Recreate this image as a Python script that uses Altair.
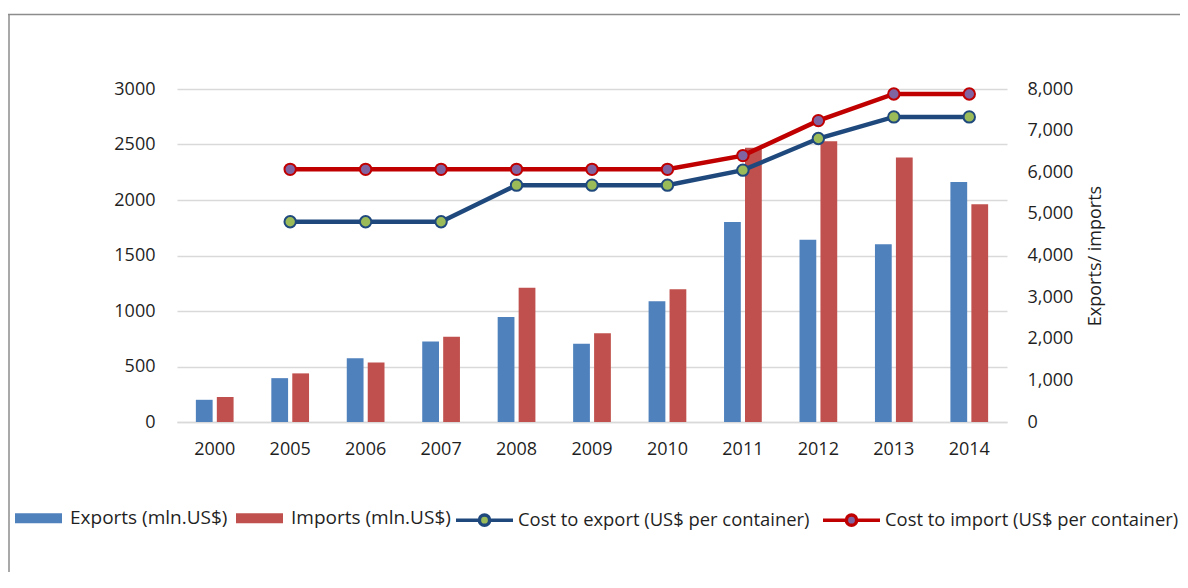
import altair as alt
import pandas as pd

FONT = "Open Sans"
TEXT = "#1f1f1f"

years = ["2000", "2005", "2006", "2007", "2008", "2009", "2010", "2011", "2012", "2013", "2014"]
exports = [200, 395, 575, 725, 945, 705, 1087, 1802, 1643, 1601, 2162]
imports = [225, 438, 535, 768, 1210, 799, 1195, 2470, 2529, 2384, 1961]
cost_export = [None, 4810, 4810, 4810, 5690, 5690, 5690, 6050, 6810, 7330, 7330]
cost_import = [None, 6070, 6070, 6070, 6070, 6070, 6070, 6400, 7240, 7880, 7880]

bar_series = ["Exports (mln.US$)", "Imports (mln.US$)"]
line_series = ["Cost to export (US$ per container)", "Cost to import (US$ per container)"]
bar_colors = ["#4F81BD", "#C0504D"]
line_colors = ["#1F497D", "#C00000"]
marker_fill = ["#9BBB59", "#8064A2"]

left_ticks = [0, 500, 1000, 1500, 2000, 2500, 3000]
right_ticks = [0, 1000, 2000, 3000, 4000, 5000, 6000, 7000, 8000]

bars_df = pd.DataFrame({
    "year": years * 2,
    "series": [bar_series[0]] * len(years) + [bar_series[1]] * len(years),
    "value": exports + imports,
})

rows = []
for s, vals in zip(line_series, [cost_export, cost_import]):
    for y, v in zip(years, vals):
        if v is not None:
            rows.append({"year": y, "series": s, "value": v})
lines_df = pd.DataFrame(rows)

TICK_FS = 18
LEG_FS = 19
LINE_LEG_FS = 18.4

x_axis = alt.Axis(title=None, labelAngle=0, ticks=False, grid=False,
                  domainColor="#d9d9d9", domainWidth=1.5, labelPadding=18,
                  labelFont=FONT, labelFontSize=TICK_FS, labelColor=TEXT)
x_scale = alt.Scale(paddingInner=0.5, paddingOuter=0.25)

bar_legend = alt.Legend(orient="none", legendX=-162, legendY=405.5, direction="horizontal",
                        title=None, symbolType="M-1,-0.21H1V0.21H-1Z", symbolSize=2209,
                        symbolStrokeWidth=0, labelFont=FONT, labelFontSize=LEG_FS,
                        labelColor=TEXT, labelOffset=8, columnPadding=8, labelLimit=0,
                        padding=0)

line_sym = ("M-1,0H-0.18M0.18,0H1M0.18,0A0.18,0.18 0 1,1 -0.18,0"
            "A0.18,0.18 0 1,1 0.18,0Z")
line_legend = alt.Legend(orient="none", legendX=277, legendY=400.5, direction="horizontal",
                         title=None, symbolType=line_sym, symbolSize=3249,
                         symbolStrokeWidth=3.5, labelFont=FONT, labelFontSize=LINE_LEG_FS,
                         labelColor=TEXT, labelOffset=3, columnPadding=6, labelLimit=0,
                         padding=0)

bars = alt.Chart(bars_df).mark_bar().encode(
    x=alt.X("year:N", sort=years, scale=x_scale, axis=x_axis),
    xOffset=alt.XOffset("series:N", sort=bar_series, scale=alt.Scale(paddingInner=0.2)),
    y=alt.Y("value:Q", scale=alt.Scale(domain=[0, 3000], nice=False),
            axis=alt.Axis(values=left_ticks, format="d", title=None, domain=False, ticks=False,
                          labelPadding=22, gridColor="#d9d9d9", gridWidth=1.3,
                          labelFont=FONT, labelFontSize=TICK_FS, labelColor=TEXT)),
    color=alt.Color("series:N", scale=alt.Scale(domain=bar_series, range=bar_colors),
                    legend=bar_legend),
)

y_right = alt.Y("value:Q", scale=alt.Scale(domain=[0, 8000], nice=False),
                axis=alt.Axis(orient="right", values=right_ticks, format=",.0f",
                              title="Exports/ imports", grid=False, domain=False, ticks=False,
                              labelPadding=20, titlePadding=14, titleAngle=270,
                              titleBaseline="top", titleFont=FONT, titleFontSize=TICK_FS,
                              titleFontWeight="normal", titleColor=TEXT,
                              labelFont=FONT, labelFontSize=TICK_FS, labelColor=TEXT))

stroke_enc = alt.Stroke("series:N", scale=alt.Scale(domain=line_series, range=line_colors),
                        legend=line_legend)

line = alt.Chart(lines_df).mark_line(strokeWidth=4.5).encode(
    x=alt.X("year:N", sort=years, scale=x_scale, axis=x_axis),
    y=y_right,
    stroke=stroke_enc,
    detail="series:N",
)
points = alt.Chart(lines_df).mark_point(filled=True, size=130, strokeWidth=2, opacity=1).encode(
    x=alt.X("year:N", sort=years, scale=x_scale, axis=x_axis),
    y=y_right,
    stroke=stroke_enc,
    fill=alt.Fill("series:N", scale=alt.Scale(domain=line_series, range=marker_fill),
                  legend=line_legend),
)

frame_df = pd.DataFrame({"k": [0]})
frame_top = alt.Chart(frame_df).mark_rule(stroke="#8c8c8c", strokeWidth=1.5).encode(
    x=alt.value(-169), x2=alt.value(1003), y=alt.value(-74.5)
)
frame_left = alt.Chart(frame_df).mark_rule(stroke="#8c8c8c", strokeWidth=1.5).encode(
    x=alt.value(-168), y=alt.value(-75), y2=alt.value(483)
)

chart = alt.layer(frame_top, frame_left, bars, alt.layer(line, points)).resolve_scale(
    y="independent"
).properties(
    width=830, height=333,
    autosize=alt.AutoSizeParams(type="none"),
    padding={"left": 169, "top": 81, "right": 173, "bottom": 150},
).configure_view(stroke=None)

chart.save("out.html", embed_options={"renderer": "svg", "actions": False})
